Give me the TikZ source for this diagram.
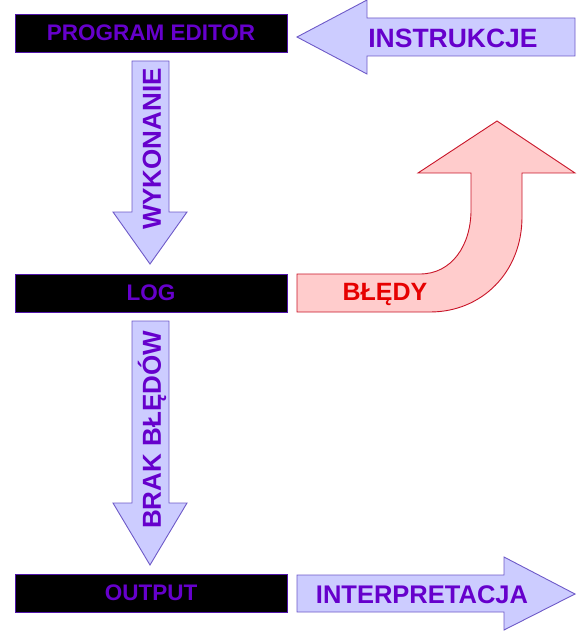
\documentclass[tikz,border=0pt]{standalone}
\usepackage{fontspec}
\setmainfont{Liberation Sans}
\definecolor{txtpurple}{RGB}{102,0,204}
\definecolor{boxborder}{RGB}{80,20,170}
\definecolor{lavfill}{RGB}{204,204,255}
\definecolor{lavdraw}{RGB}{110,90,200}
\definecolor{pinkfill}{RGB}{255,204,204}
\definecolor{reddraw}{RGB}{200,20,40}
\definecolor{redtxt}{RGB}{230,0,0}
\tikzset{
  blackbox/.style={draw=boxborder, line width=0.9pt, fill=black, minimum width=272pt, minimum height=38pt, inner sep=0pt},
  boxtext/.style={text=txtpurple, font=\bfseries\fontsize{22.5}{26}\selectfont},
  lavarrow/.style={draw=lavdraw, line width=0.9pt, fill=lavfill, line join=miter},
  redarrow/.style={draw=reddraw, line width=0.9pt, fill=pinkfill, line join=miter},
  arrowtext/.style={text=txtpurple, font=\bfseries\fontsize{26}{30}\selectfont, inner sep=0pt},
}
\begin{document}
\begin{tikzpicture}[x=1pt,y=-1pt]
\useasboundingbox (0,0) rectangle (582,631);
% boxes
\node[blackbox] (editor) at (151,33) {};
\node[boxtext] (editortext) at (editor.center) {PROGRAM EDITOR};
\node[blackbox] (log) at (151,293) {};
\node[boxtext] (logtext) at (log.center) {LOG};
\node[blackbox] (output) at (151,593) {};
\node[boxtext] (outputtext) at (output.center) {OUTPUT};
% INSTRUKCJE arrow
\draw[lavarrow] (297,37) -- (367,0) -- (367,18) -- (575,18) -- (575,56) -- (367,56) -- (367,74) -- cycle;
\node[arrowtext, font=\bfseries\fontsize{26.5}{30}\selectfont] (instr) at (453,38) {INSTRUKCJE};
% WYKONANIE arrow
\draw[lavarrow] (132,61) -- (169,61) -- (169,212) -- (187,212) -- (150,264) -- (113,212) -- (132,212) -- cycle;
\node[arrowtext, rotate=90] (wyk) at (152,149) {WYKONANIE};
% BRAK BLEDOW arrow
\draw[lavarrow] (132,321) -- (169,321) -- (169,503) -- (187,503) -- (150,565) -- (113,503) -- (132,503) -- cycle;
\node[arrowtext, rotate=90] (brak) at (152,430) {BRAK BŁĘDÓW};
% INTERPRETACJA arrow
\draw[lavarrow] (297,575) -- (504,575) -- (504,557) -- (575,594) -- (504,630) -- (504,612) -- (297,612) -- cycle;
\node[arrowtext, font=\bfseries\fontsize{25.5}{30}\selectfont] (interp) at (422,595) {INTERPRETACJA};
% BLEDY curved arrow
\draw[redarrow] (297,274) -- (420,274) .. controls (452,274) and (471,245) .. (471,210) -- (471,173) -- (418,173) -- (497,121) -- (575,173) -- (522,173) -- (522,217) .. controls (522,272) and (482,312) .. (430,312) -- (297,312) -- cycle;
\node[text=redtxt, font=\bfseries\fontsize{25}{30}\selectfont, inner sep=0pt] (bledy) at (385,294) {BŁĘDY};
\end{tikzpicture}
\end{document}
